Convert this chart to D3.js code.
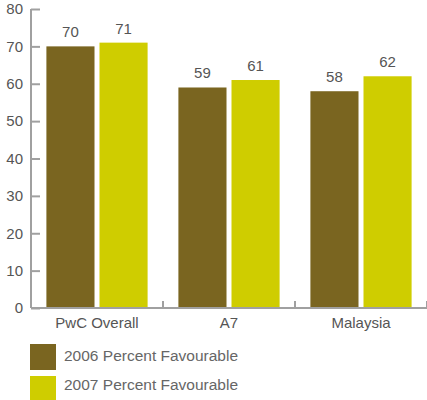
<!DOCTYPE html>
<html><head><meta charset="utf-8">
<script src="https://cdn.jsdelivr.net/npm/d3@7"></script>
<style>body{margin:0;background:#fff;}text{font-family:"Liberation Sans",Arial,sans-serif;}</style>
</head><body><svg id="c" width="427" height="400"></svg>
<script>
const categories = ["PwC Overall", "A7", "Malaysia"];
const series2006 = [70, 59, 58];
const series2007 = [71, 61, 62];
const seriesNames = ["2006 Percent Favourable", "2007 Percent Favourable"];
const yTicks = [0, 10, 20, 30, 40, 50, 60, 70, 80];
const colors = ["#7a6520", "#cfcd00"];

(function(){
const svg = d3.select("#c");
const mLeft = 31, mRight = 427, mTop = 9, mBottom = 308;
const x = d3.scaleBand().domain(categories).range([mLeft, mRight]).paddingInner(0).paddingOuter(0);
const x1 = d3.scaleBand().domain([0, 1]).range([0, x.bandwidth()]).paddingInner(0.094).paddingOuter(0.29);
const y = d3.scaleLinear().domain([0, 80]).range([mBottom, mTop]);
const axisColor = "#a0a0a0", textColor = "#555";

// y axis
const ya = svg.append("g").attr("transform", `translate(${mLeft},0)`)
  .call(d3.axisRight(y).tickValues(yTicks).tickSize(9).tickFormat(""));
ya.select(".domain").attr("stroke", axisColor).attr("stroke-width", 2).attr("d", `M0,${mTop}V${mBottom}`);
ya.selectAll(".tick line").attr("stroke", axisColor).attr("stroke-width", 2);
svg.append("g").selectAll("text").data(yTicks).join("text")
  .attr("x", 23).attr("y", d => y(d)).attr("dy", "0.35em").attr("text-anchor", "end")
  .attr("font-size", 15).attr("fill", textColor).text(d => d);

// bars
const data = categories.map((c, i) => ({c, v: [series2006[i], series2007[i]]}));
const g = svg.append("g");
data.forEach(d => {
  d.v.forEach((v, j) => {
    g.append("rect").attr("x", x(d.c) + x1(j)).attr("y", y(v))
      .attr("width", x1.bandwidth()).attr("height", y(0) - y(v)).attr("fill", colors[j]);
    g.append("text").attr("x", x(d.c) + x1(j) + x1.bandwidth() / 2).attr("y", y(v) - 9)
      .attr("text-anchor", "middle").attr("font-size", 15).attr("fill", textColor).text(v);
  });
});

// x axis
const xa = svg.append("g").attr("transform", `translate(0,${mBottom})`)
  .call(d3.axisTop(x).tickSize(0).tickFormat(""));
xa.select(".domain").attr("stroke", axisColor).attr("stroke-width", 2).attr("d", `M${mLeft},0H${mRight}`);
xa.selectAll(".tick").remove();
svg.append("g").selectAll("line").data(categories).join("line")
  .attr("x1", d => x(d) + x.bandwidth()).attr("x2", d => x(d) + x.bandwidth())
  .attr("y1", mBottom).attr("y2", mBottom - 7).attr("stroke", axisColor).attr("stroke-width", 2);
svg.append("g").selectAll("text").data(categories).join("text")
  .attr("x", d => x(d) + x.bandwidth() / 2).attr("y", mBottom + 20).attr("text-anchor", "middle")
  .attr("font-size", 15).attr("fill", textColor).text(d => d);

// legend
const lg = svg.append("g");
seriesNames.forEach((n, i) => {
  lg.append("rect").attr("x", 30).attr("y", 344 + i * 32).attr("width", 26).attr("height", 26).attr("fill", colors[i]);
  lg.append("text").attr("x", 64).attr("y", 356 + i * 29).attr("dy", "0.35em")
    .attr("font-size", 15.5).attr("fill", "#666").text(n);
});
})();
</script></body></html>
